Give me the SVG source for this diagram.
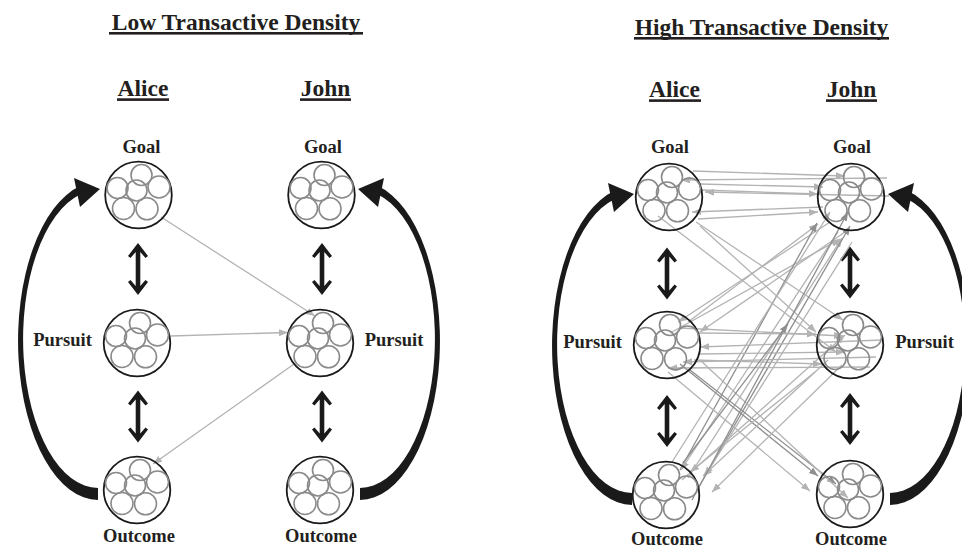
<svg xmlns="http://www.w3.org/2000/svg" xmlns:xlink="http://www.w3.org/1999/xlink" width="962" height="550" viewBox="0 0 962 550">
<style>
text{font-family:"Liberation Serif","Times New Roman",serif;font-weight:bold;fill:#231f20;text-anchor:middle}
.title{font-size:23.5px}
.head{font-size:23.5px}
.lbl{font-size:18.5px}
.ul{fill:#231f20}
.outer{fill:none;stroke:#1a1a1a;stroke-width:1.8}
.inner circle{fill:none;stroke:#8a8a8a;stroke-width:1.6}
.big{fill:#1a1a1a}
.dbl{fill:#1a1a1a}
.cl{fill:none;stroke:#b3b3b3;stroke-width:1.3;marker-end:url(#ah)}
.cd{fill:none;stroke:#8f8f8f;stroke-width:1.3;marker-end:url(#ahd)}
</style>
<defs>
<marker id="ah" markerUnits="userSpaceOnUse" markerWidth="10" markerHeight="8" refX="9" refY="3.5" orient="auto"><path d="M0,0 L9,3.5 L0,7 z" fill="#b3b3b3"/></marker>
<marker id="ahd" markerUnits="userSpaceOnUse" markerWidth="10" markerHeight="8" refX="9" refY="3.5" orient="auto"><path d="M0,0 L9,3.5 L0,7 z" fill="#8f8f8f"/></marker>
<g id="node">
<circle class="outer" r="33.3"/>
<g class="inner">
<circle cx="3" cy="-20" r="10.5"/>
<circle cx="-21" cy="-7" r="10.5"/>
<circle cx="-2" cy="-4.5" r="10.5"/>
<circle cx="20.5" cy="-8" r="11"/>
<circle cx="-15" cy="13.5" r="11"/>
<circle cx="8.5" cy="13.8" r="11"/>
</g>
</g>
<path id="dbl" class="dbl" d="M0,-26 L10,-13 L7.5,-11 L2.3,-17 L2.3,17 L7.5,11 L10,13 L0,26 L-10,13 L-7.5,11 L-2.3,17 L-2.3,-17 L-7.5,-11 L-10,-13 Z"/>
<g id="arc" class="big">
<path d="M0,159 A80,159 0 0 1 -18,-154.9 L-18,-146.6 A75,149 0 0 0 0,147 Z"/>
<path d="M2,-152 L-24,-163 L-18,-134 Z"/>
</g>
</defs>

<!-- Titles and headers -->
<g id="titles">
<text class="title" x="236" y="30">Low Transactive Density</text>
<rect class="ul" x="109" y="32" width="254" height="2.6"/>
<text class="title" x="761.5" y="35">High Transactive Density</text>
<rect class="ul" x="634" y="37" width="255" height="2.6"/>
<text class="head" x="143" y="96">Alice</text>
<rect class="ul" x="117" y="98.3" width="52" height="2.6"/>
<text class="head" x="325.5" y="96">John</text>
<rect class="ul" x="300" y="98.3" width="51" height="2.6"/>
<text class="head" x="674.5" y="97">Alice</text>
<rect class="ul" x="649" y="99.3" width="52" height="2.6"/>
<text class="head" x="851.5" y="97">John</text>
<rect class="ul" x="826" y="99.3" width="51" height="2.6"/>
</g>

<!-- Connectors -->
<g id="connectors">
<!-- big feedback arcs -->
<use href="#arc" transform="translate(98,341)"/>
<use href="#arc" transform="translate(360,341) scale(-1,1)"/>
<use href="#arc" transform="translate(632,346)"/>
<use href="#arc" transform="translate(890,346) scale(-1,1)"/>
<!-- vertical double arrows -->
<use href="#dbl" x="138" y="269"/>
<use href="#dbl" x="138" y="416.5"/>
<use href="#dbl" x="322" y="269"/>
<use href="#dbl" x="322" y="416.5"/>
<use href="#dbl" x="667" y="273.5"/>
<use href="#dbl" x="667" y="421"/>
<use href="#dbl" x="850" y="272.5"/>
<use href="#dbl" x="850" y="419"/>
<!-- low density grey links -->
<path class="cl" d="M161,217 L315,316"/>
<path class="cl" d="M171,336 L288,332.5"/>
<path class="cl" d="M294,364 L153,464"/>
<!-- high density grey links -->
<path class="cl" d="M693,171 L845,176"/>
<path class="cl" d="M887,178 L681,180"/>
<path class="cl" d="M700,184 L823,187"/>
<path class="cl" d="M702,190 L818,194"/>
<path class="cl" d="M889,196 L705,192"/>
<path class="cl" d="M823,207 L692,212"/>
<path class="cl" d="M698,219 L818,212"/>
<path class="cl" d="M696,222 L843,320"/>
<path class="cl" d="M658,216 L836,352"/>
<path class="cl" d="M830,222 L678,322"/>
<path class="cl" d="M845,232 L700,332"/>
<path class="cl" d="M688,322 L818,224"/>
<path class="cl" d="M672,332 L840,239"/>
<path class="cd" d="M680,470 L817,223"/>
<path class="cl" d="M688,478 L842,238"/>
<path class="cd" d="M697,490 L850,226"/>
<path class="cl" d="M672,462 L830,212"/>
<path class="cl" d="M838,232 L681,470"/>
<path class="cl" d="M852,242 L705,476"/>
<path class="cl" d="M680,328 L843,336"/>
<path class="cl" d="M697,333 L816,334"/>
<path class="cl" d="M882,340 L700,347"/>
<path class="cl" d="M700,354 L845,352"/>
<path class="cl" d="M876,357 L683,362"/>
<path class="cl" d="M694,360 L822,364"/>
<path class="cl" d="M870,367 L668,368"/>
<path class="cd" d="M680,364 L818,476"/>
<path class="cd" d="M690,370 L836,484"/>
<path class="cl" d="M668,372 L810,491"/>
<path class="cl" d="M700,360 L848,498"/>
<path class="cl" d="M828,360 L703,476"/>
<path class="cl" d="M842,365 L712,492"/>
<path class="cl" d="M682,480 L845,335"/>
<path class="cd" d="M683,463 L788,324"/>
<path class="cl" d="M815,372 L690,472"/>
<path class="cl" d="M700,226 L816,332"/>
<path class="cd" d="M692,500 L848,212"/>
</g>

<!-- Low density nodes -->
<g id="low-alice-goal"><use href="#node" x="138.5" y="195"/><text class="lbl" x="141.5" y="153">Goal</text></g>
<g id="low-alice-pursuit"><use href="#node" x="137" y="343"/><text class="lbl" x="62.5" y="346">Pursuit</text></g>
<g id="low-alice-outcome"><use href="#node" x="137" y="490"/><text class="lbl" x="139" y="542">Outcome</text></g>
<g id="low-john-goal"><use href="#node" x="321.5" y="195"/><text class="lbl" x="323" y="153">Goal</text></g>
<g id="low-john-pursuit"><use href="#node" x="320" y="343"/><text class="lbl" x="394" y="346">Pursuit</text></g>
<g id="low-john-outcome"><use href="#node" x="320" y="490"/><text class="lbl" x="321" y="542">Outcome</text></g>

<!-- High density nodes -->
<g id="high-alice-goal"><use href="#node" x="669" y="197"/><text class="lbl" x="670" y="153">Goal</text></g>
<g id="high-alice-pursuit"><use href="#node" x="667" y="345"/><text class="lbl" x="592.5" y="348">Pursuit</text></g>
<g id="high-alice-outcome"><use href="#node" x="666" y="495"/><text class="lbl" x="667" y="545">Outcome</text></g>
<g id="high-john-goal"><use href="#node" x="851" y="197"/><text class="lbl" x="852" y="153">Goal</text></g>
<g id="high-john-pursuit"><use href="#node" x="850" y="345"/><text class="lbl" x="924.5" y="348">Pursuit</text></g>
<g id="high-john-outcome"><use href="#node" x="850" y="494"/><text class="lbl" x="851" y="545">Outcome</text></g>
</svg>
